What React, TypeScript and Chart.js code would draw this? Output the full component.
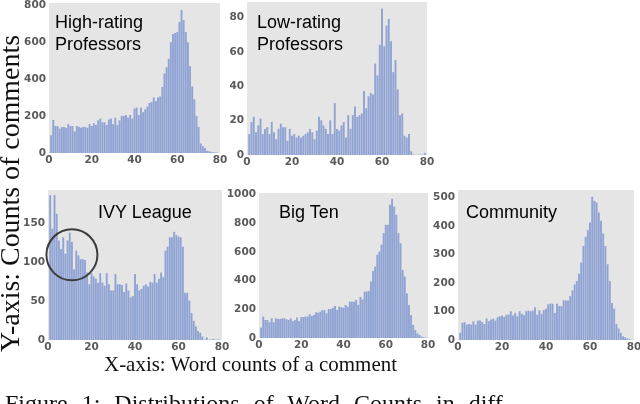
import React, { useEffect, useRef } from "react";
import { Chart, registerables } from "chart.js";

Chart.register(...registerables);

// ---------------- DATA ----------------
const WORD_COUNTS = [
  0, 1, 2, 3, 4, 5, 6, 7, 8, 9, 10, 11, 12, 13, 14, 15, 16, 17, 18, 19,
  20, 21, 22, 23, 24, 25, 26, 27, 28, 29, 30, 31, 32, 33, 34, 35, 36, 37, 38, 39,
  40, 41, 42, 43, 44, 45, 46, 47, 48, 49, 50, 51, 52, 53, 54, 55, 56, 57, 58, 59,
  60, 61, 62, 63, 64, 65, 66, 67, 68, 69, 70, 71, 72, 73, 74, 75, 76, 77, 78, 79,
];

const HIGH_RATING = [
  0, 95, 178, 145, 145, 130, 140, 140, 135, 155,
  145, 145, 115, 145, 140, 135, 140, 140, 135, 155,
  145, 160, 150, 175, 185, 165, 165, 150, 180, 185,
  155, 190, 150, 175, 200, 200, 205, 190, 205, 185,
  240, 245, 205, 245, 220, 235, 250, 270, 275, 300,
  280, 300, 305, 357, 430, 465, 510, 600, 645, 650,
  655, 710, 775, 720, 655, 600, 470, 360, 290, 200,
  140, 50, 35, 25, 10, 8, 4, 2, 1, 0,
];

const LOW_RATING = [
  0, 12, 19, 22, 13, 17, 21, 12, 15, 16,
  12, 19, 13, 9, 15, 18, 16, 16, 8, 15,
  11, 12, 10, 11, 10, 11, 12, 13, 15, 13,
  9, 14, 22, 20, 17, 15, 12, 20, 12, 30,
  15, 14, 17, 19, 10, 23, 15, 23, 28, 22,
  23, 24, 37, 27, 34, 36, 35, 53, 46, 64,
  85, 63, 75, 79, 66, 48, 55, 38, 23, 24,
  11, 10, 12, 2, 0, 0, 0, 0, 0, 1,
];

const IVY_LEAGUE = [
  0, 185, 142, 185, 161, 127, 116, 131, 110, 127,
  137, 125, 90, 114, 108, 103, 103, 102, 86, 71,
  85, 81, 78, 73, 85, 73, 69, 85, 71, 63,
  63, 84, 71, 71, 70, 61, 72, 63, 54, 56,
  84, 71, 63, 65, 69, 71, 68, 74, 73, 84,
  73, 78, 86, 80, 114, 119, 131, 131, 138, 134,
  132, 131, 119, 60, 60, 50, 34, 24, 17, 11,
  9, 4, 0, 3, 0, 0, 1, 0, 0, 0,
];

const BIG_TEN = [
  0, 70, 147, 123, 123, 107, 135, 107, 135, 130,
  130, 135, 135, 128, 123, 135, 116, 123, 140, 116,
  144, 144, 147, 147, 163, 151, 158, 177, 174, 181,
  193, 191, 170, 200, 200, 209, 221, 193, 216, 212,
  209, 228, 216, 251, 251, 251, 263, 228, 284, 267,
  321, 321, 326, 391, 465, 495, 577, 600, 647, 728,
  786, 786, 926, 967, 914, 856, 728, 658, 472, 426,
  309, 228, 158, 88, 53, 30, 19, 7, 2, 0,
];

const COMMUNITY = [
  0, 24, 59, 62, 53, 55, 53, 65, 53, 67,
  67, 62, 55, 74, 65, 71, 74, 67, 79, 82,
  85, 80, 88, 88, 100, 85, 94, 82, 100, 91,
  86, 100, 102, 100, 102, 114, 88, 103, 91, 104,
  109, 124, 127, 126, 94, 126, 118, 118, 138, 138,
  138, 153, 173, 194, 206, 232, 271, 329, 361, 385,
  412, 502, 488, 482, 447, 418, 373, 329, 265, 206,
  129, 109, 55, 39, 24, 12, 8, 4, 1, 0,
];

const X_TICKS = [0, 20, 40, 60, 80];
const Y_TICKS_HIGH = [0, 200, 400, 600, 800];
const Y_TICKS_LOW = [0, 20, 40, 60, 80];
const Y_TICKS_IVY = [0, 50, 100, 150];
const Y_TICKS_BIG_TEN = [0, 200, 400, 600, 800, 1000];
const Y_TICKS_COMMUNITY = [0, 100, 200, 300, 400, 500];

const TITLE_HIGH = ["High-rating", "Professors"];
const TITLE_LOW = ["Low-rating", "Professors"];
const TITLE_IVY = ["IVY League"];
const TITLE_BIG_TEN = ["Big Ten"];
const TITLE_COMMUNITY = ["Community"];

const Y_LABEL = "Y-axis: Counts of comments";
const X_LABEL = "X-axis: Word counts of a comment";
const CAPTION = "Figure 1: Distributions of Word Counts in diff-";

// highlighted region in the IVY League panel (data coords)
const IVY_CIRCLE_CENTER = [11, 109];

// ---------------- STYLE / LAYOUT ----------------
const BAR_COLOR = "rgba(100,130,202,0.68)";
const PLOT_BG = "#e5e5e5";
const TICK_COLOR = "#5a5a5a";
const Y_AXIS_W = 40;
const X_AXIS_H = 16;

type PanelCfg = {
  values: number[];
  yTicks: number[];
  yMax: number;
  left: number;
  top: number;
  width: number;
  height: number;
  padTop: number;
  padRight: number;
  circle?: boolean;
};

const PANELS: PanelCfg[] = [
  { values: HIGH_RATING, yTicks: Y_TICKS_HIGH, yMax: 815, left: 9, top: 0, width: 221, height: 169, padTop: 3, padRight: 10 },
  { values: LOW_RATING, yTicks: Y_TICKS_LOW, yMax: 89, left: 207, top: 0, width: 230, height: 171, padTop: 2, padRight: 10 },
  { values: IVY_LEAGUE, yTicks: Y_TICKS_IVY, yMax: 192, left: 8, top: 180, width: 224, height: 176, padTop: 10, padRight: 10, circle: true },
  { values: BIG_TEN, yTicks: Y_TICKS_BIG_TEN, yMax: 1010, left: 219, top: 180, width: 219, height: 174, padTop: 13, padRight: 10 },
  { values: COMMUNITY, yTicks: Y_TICKS_COMMUNITY, yMax: 527, left: 418, top: 180, width: 222, height: 176, padTop: 10, padRight: 6 },
];

const bgPlugin = {
  id: "plotBg",
  beforeDraw(chart: any) {
    const { ctx, chartArea } = chart;
    ctx.save();
    ctx.fillStyle = PLOT_BG;
    ctx.fillRect(chartArea.left, chartArea.top, chartArea.right - chartArea.left, chartArea.bottom - chartArea.top);
    ctx.restore();
  },
};

const circlePlugin = {
  id: "ivyCircle",
  afterDraw(chart: any) {
    const { ctx, scales } = chart;
    const cx = scales.x.getPixelForValue(IVY_CIRCLE_CENTER[0]);
    const cy = scales.y.getPixelForValue(IVY_CIRCLE_CENTER[1]);
    ctx.save();
    ctx.beginPath();
    ctx.arc(cx, cy, 25.5, 0, Math.PI * 2);
    ctx.lineWidth = 2;
    ctx.strokeStyle = "#3c3c3c";
    ctx.stroke();
    ctx.restore();
  },
};

const tickFont = { family: "'DejaVu Sans', sans-serif", size: 10.5, weight: "bold" as const };

function Panel({ cfg }: { cfg: PanelCfg }) {
  const ref = useRef<HTMLCanvasElement>(null);
  useEffect(() => {
    const canvas = ref.current!;
    const chart = new Chart(canvas, {
      type: "bar",
      data: {
        datasets: [
          {
            data: cfg.values.map((v, i) => ({ x: WORD_COUNTS[i], y: v })),
            backgroundColor: BAR_COLOR,
            borderWidth: 0,
            barThickness: 1.2,
          } as any,
        ],
      },
      options: {
        animation: false,
        responsive: false,
        maintainAspectRatio: false,
        devicePixelRatio: 1,
        layout: { padding: { top: cfg.padTop, right: cfg.padRight, bottom: 0, left: 0 } },
        plugins: { legend: { display: false }, tooltip: { enabled: false }, title: { display: false } },
        scales: {
          x: {
            type: "linear",
            min: 0,
            max: 80,
            offset: false,
            grid: { display: false, drawTicks: false },
            border: { display: false },
            ticks: {
              padding: 1,
              font: tickFont,
              color: TICK_COLOR,
              maxRotation: 0,
              autoSkip: false,
              callback: (v: any) => String(v),
            },
            afterBuildTicks: (axis: any) => {
              axis.ticks = X_TICKS.map((v) => ({ value: v }));
            },
            afterFit: (axis: any) => {
              axis.height = X_AXIS_H;
              axis.paddingLeft = 0;
              axis.paddingRight = 0;
            },
          },
          y: {
            type: "linear",
            min: 0,
            max: cfg.yMax,
            grid: { display: false, drawTicks: false },
            border: { display: false },
            ticks: {
              padding: 3,
              font: tickFont,
              color: TICK_COLOR,
              autoSkip: false,
              callback: (v: any) => String(v),
            },
            afterBuildTicks: (axis: any) => {
              axis.ticks = cfg.yTicks.map((v) => ({ value: v }));
            },
            afterFit: (axis: any) => {
              axis.width = Y_AXIS_W;
              axis.paddingTop = 0;
              axis.paddingBottom = 0;
            },
          },
        },
      } as any,
      plugins: cfg.circle ? [bgPlugin, circlePlugin] : [bgPlugin],
    });
    return () => chart.destroy();
  }, [cfg]);
  return (
    <div style={{ position: "absolute", left: cfg.left, top: cfg.top, width: cfg.width, height: cfg.height }}>
      <canvas ref={ref} width={cfg.width} height={cfg.height} style={{ width: cfg.width, height: cfg.height, display: "block" }} />
    </div>
  );
}

const SANS = "'Liberation Sans', Arial, sans-serif";
const SERIF = "'Liberation Serif', 'Times New Roman', serif";

function PanelTitle({ lines, x, y }: { lines: string[]; x: number; y: number }) {
  return (
    <text x={x} y={y} fontFamily={SANS} fontSize={18} fill="#000">
      {lines.map((l, i) => (
        <tspan key={i} x={x} dy={i === 0 ? 0 : 22}>
          {l}
        </tspan>
      ))}
    </text>
  );
}

export default function App() {
  return (
    <div
      style={{
        position: "fixed",
        left: 0,
        top: 0,
        width: 640,
        height: 404,
        overflow: "hidden",
        background: "#fff",
      }}
    >
      {PANELS.map((p, i) => (
        <Panel key={i} cfg={p} />
      ))}
      <svg
        width={640}
        height={404}
        style={{ position: "absolute", left: 0, top: 0, pointerEvents: "none" }}
      >
        <PanelTitle lines={TITLE_HIGH} x={55} y={27.5} />
        <PanelTitle lines={TITLE_LOW} x={257} y={27.5} />
        <PanelTitle lines={TITLE_IVY} x={98} y={218} />
        <PanelTitle lines={TITLE_BIG_TEN} x={279} y={217.5} />
        <PanelTitle lines={TITLE_COMMUNITY} x={466} y={217.5} />
        <text
          transform="translate(18.5,352) rotate(-90)"
          fontFamily={SERIF}
          fontSize={27}
          fill="#111"
          textLength={317}
          lengthAdjust="spacingAndGlyphs"
        >
          {Y_LABEL}
        </text>
        <text
          x={104}
          y={371}
          fontFamily={SERIF}
          fontSize={21}
          fill="#111"
          textLength={293}
          lengthAdjust="spacingAndGlyphs"
        >
          {X_LABEL}
        </text>
        <text x={5} y={411} fontFamily={SERIF} fontSize={24} fill="#111" style={{ wordSpacing: "8px" }}>
          {CAPTION}
        </text>
      </svg>
    </div>
  );
}
